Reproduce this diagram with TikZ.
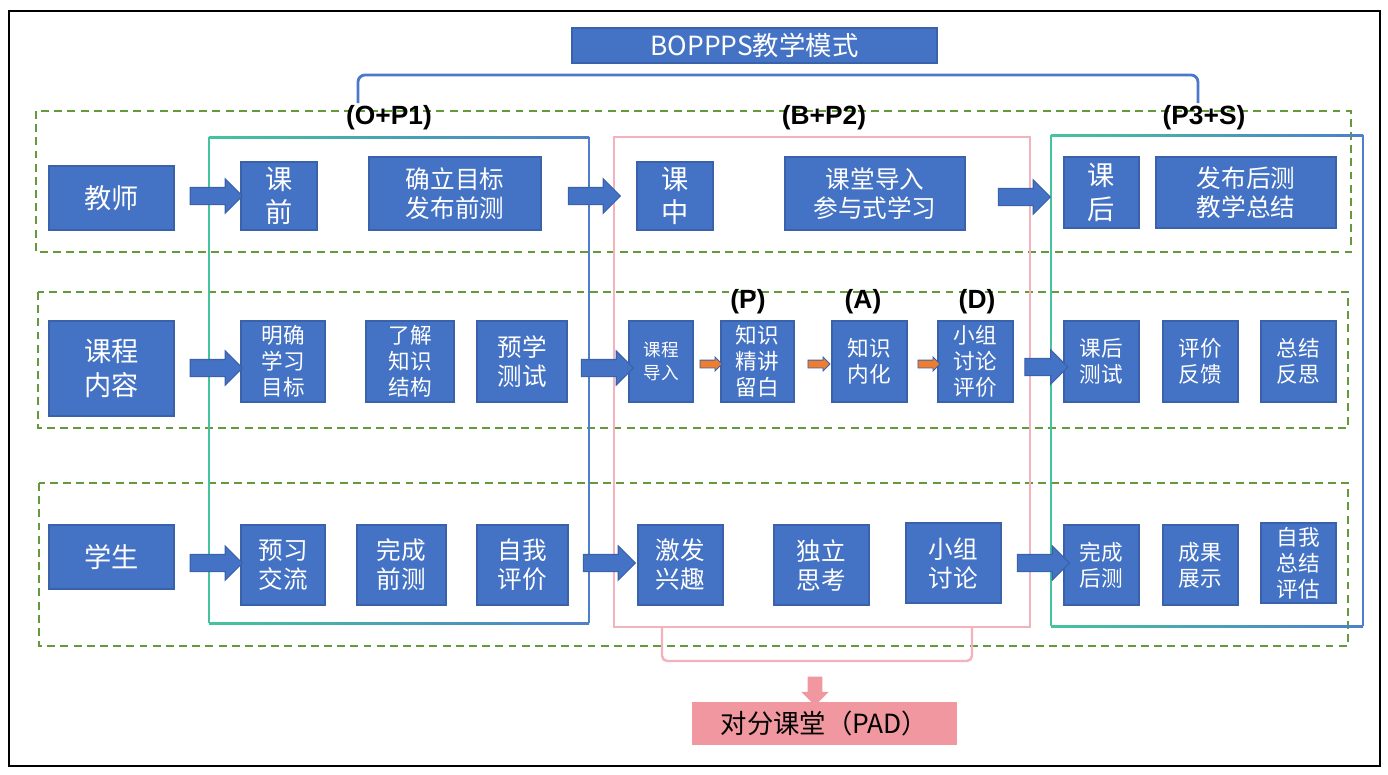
\documentclass[tikz,border=0pt]{standalone}
\usepackage{fontspec}
\setmainfont{Noto Sans CJK SC}
\newfontfamily\lblfont{Liberation Sans}
\usetikzlibrary{shapes.arrows}
\definecolor{boxblue}{HTML}{4472C4}
\definecolor{boxline}{HTML}{3A62AA}
\definecolor{braceblue}{HTML}{4A78CA}
\definecolor{dashgreen}{HTML}{64993C}
\definecolor{pinkline}{HTML}{F4B3BC}
\definecolor{padpink}{HTML}{F0979F}
\definecolor{tealline}{HTML}{45C39E}
\definecolor{groupblue}{HTML}{4E7FCB}
\definecolor{arroworange}{HTML}{ED7D31}
\tikzset{
  box/.style={draw=boxline, line width=0.9pt, fill=boxblue, text=white, align=center, inner sep=0pt},
  fbig/.style={font=\fontsize{15.5}{19}\selectfont},
  fmid/.style={font=\fontsize{14}{16.5}\selectfont},
  fsmall/.style={font=\fontsize{12.3}{14.7}\selectfont},
  ftiny/.style={font=\fontsize{10}{13}\selectfont},
  flow/.style={single arrow, draw=boxline, line width=0.6pt, fill=boxblue, inner sep=0.16cm, single arrow head extend=0.17cm, minimum height=1.04cm},
  minor/.style={single arrow, draw=boxline, line width=0.5pt, fill=arroworange, inner sep=0.07cm, single arrow head extend=0.06cm, minimum height=0.44cm},
  phase/.style={font=\lblfont\bfseries\fontsize{15}{18}\selectfont},
  rowband/.style={draw=dashgreen, line width=1.1pt, dash pattern=on 4.5pt off 3pt},
}
\begin{document}
\begin{tikzpicture}[x=0.02cm,y=-0.02cm]
  \useasboundingbox (0,0) rectangle (1388,774);
  \draw[line width=1.6pt] (9,11) rectangle (1380,766);

  % rows
  \draw[rowband] (36,111) rectangle (1351,252);
  \draw[rowband] (38,292) rectangle (1348,428);
  \draw[rowband] (39,483) rectangle (1348,646);

  % phase frames
  \draw[tealline, line width=1.2pt] (209,137) -- (209,623);
  \draw[groupblue, line width=1.2pt] (589,137) -- (589,623);
  \shade[left color=tealline, right color=groupblue] (209,136) rectangle (589,138);
  \shade[left color=tealline, right color=groupblue] (209,622) rectangle (589,624);
  \draw[pinkline, line width=1.4pt] (614,137) rectangle (1030,627);
  \draw[tealline, line width=1.2pt] (1051,135) -- (1051,626);
  \draw[groupblue, line width=1.2pt] (1363,135) -- (1363,626);
  \shade[left color=tealline, right color=groupblue] (1051,134) rectangle (1363,136);
  \shade[left color=tealline, right color=groupblue] (1051,625) rectangle (1363,627);

  % title and brace
  \node[box, font=\fontsize{15}{18}\selectfont, minimum width=7.3cm, minimum height=0.7cm] (title) at (754.5,45.5) {BOPPPS教学模式};
  \coordinate (braceL) at (358,103);
  \coordinate (braceR) at (1198,103);
  \draw[braceblue, line width=1.6pt, rounded corners=4pt] (braceL) -- (358,75) -- (1198,75) -- (braceR);
  \node[phase] (op) at (389,118) {(O+P1)};
  \node[phase] (bp) at (824,118) {(B+P2)};
  \node[phase] (ps) at (1204,118) {(P3+S)};

  % teacher row
  \node[box, fbig, minimum width=2.5cm, minimum height=1.28cm] (teacher) at (111.5,198) {教师};
  \node[box, fbig, minimum width=1.52cm, minimum height=1.36cm] (pre) at (279,196) {课\\前};
  \node[box, fmid, minimum width=3.44cm, minimum height=1.46cm] (goal) at (455,193.5) {确立目标\\发布前测};
  \node[box, fbig, minimum width=1.52cm, minimum height=1.36cm] (mid) at (675,196) {课\\中};
  \node[box, fmid, minimum width=3.6cm, minimum height=1.46cm] (lead) at (875,193.5) {课堂导入\\参与式学习};
  \node[box, fbig, minimum width=1.5cm, minimum height=1.42cm] (post) at (1101.5,192.5) {课\\后};
  \node[box, fmid, minimum width=3.6cm, minimum height=1.42cm] (sum) at (1246,192.5) {发布后测\\教学总结};
  \node[flow] (t1) at (212,196) {};
  \node[flow] (t2) at (590,196) {};
  \node[flow] (t3) at (1020,197) {};

  % content row
  \node[box, fbig, minimum width=2.5cm, minimum height=1.9cm] (content) at (111.5,368.5) {课程\\内容};
  \node[box, fsmall, minimum width=1.68cm, minimum height=1.62cm] (aim) at (283,361.5) {明确\\学习\\目标};
  \node[box, fsmall, minimum width=1.76cm, minimum height=1.62cm] (frame) at (410,361.5) {了解\\知识\\结构};
  \node[box, fmid, minimum width=1.8cm, minimum height=1.62cm] (pretest) at (522,361.5) {预学\\测试};
  \node[box, ftiny, minimum width=1.28cm, minimum height=1.62cm] (intro) at (661,361.5) {课程\\导入};
  \node[box, fsmall, minimum width=1.46cm, minimum height=1.62cm] (lecture) at (757.5,361.5) {知识\\精讲\\留白};
  \node[box, fsmall, minimum width=1.5cm, minimum height=1.62cm] (absorb) at (869.5,361.5) {知识\\内化};
  \node[box, fsmall, minimum width=1.5cm, minimum height=1.62cm] (discuss) at (975.5,361.5) {小组\\讨论\\评价};
  \node[box, fsmall, minimum width=1.5cm, minimum height=1.62cm] (posttest) at (1101.5,361.5) {课后\\测试};
  \node[box, fsmall, minimum width=1.5cm, minimum height=1.62cm] (feedback) at (1200.5,361.5) {评价\\反馈};
  \node[box, fsmall, minimum width=1.5cm, minimum height=1.62cm] (reflect) at (1298.5,361.5) {总结\\反思};
  \node[phase] (pl) at (748,302) {(P)};
  \node[phase] (al) at (863,302) {(A)};
  \node[phase] (dl) at (977,302) {(D)};
  \node[flow] (c1) at (212,368) {};
  \node[flow] (c2) at (603,368) {};
  \node[flow, minimum height=0.86cm] (c3) at (1042,367) {};
  \node[minor] (m1) at (709,364) {};
  \node[minor] (m2) at (817,364) {};
  \node[minor] (m3) at (927,364) {};

  % student row
  \node[box, fbig, minimum width=2.5cm, minimum height=1.28cm] (student) at (111.5,557) {学生};
  \node[box, fmid, minimum width=1.68cm, minimum height=1.6cm] (preview) at (283,565) {预习\\交流};
  \node[box, fmid, minimum width=1.78cm, minimum height=1.6cm] (dotest) at (401.5,565) {完成\\前测};
  \node[box, fmid, minimum width=1.82cm, minimum height=1.6cm] (selfeval) at (522.5,565) {自我\\评价};
  \node[box, fmid, minimum width=1.7cm, minimum height=1.6cm] (spark) at (680.5,565) {激发\\兴趣};
  \node[box, fmid, minimum width=1.9cm, minimum height=1.6cm] (think) at (821.5,565) {独立\\思考};
  \node[box, fmid, minimum width=1.9cm, minimum height=1.6cm] (group) at (953.5,563) {小组\\讨论};
  \node[box, fsmall, minimum width=1.5cm, minimum height=1.6cm] (finish) at (1101.5,565) {完成\\后测};
  \node[box, fsmall, minimum width=1.5cm, minimum height=1.6cm] (show) at (1200.5,565) {成果\\展示};
  \node[box, fsmall, minimum width=1.5cm, minimum height=1.6cm] (selfsum) at (1298.5,563) {自我\\总结\\评估};
  \node[flow] (s1) at (212,563) {};
  \node[flow] (s2) at (605,563) {};
  \node[flow] (s3) at (1039,563) {};

  % PAD
  \coordinate (padL) at (662,627);
  \coordinate (padR) at (972,627);
  \draw[pinkline, line width=1.4pt, rounded corners=3pt] (padL) -- (662,661) -- (972,661) -- (padR);
  \node[single arrow, shape border rotate=270, fill=padpink, inner sep=0.14cm, single arrow head extend=0.13cm, minimum height=0.58cm] (down) at (815,687.5) {};
  \node[fill=padpink, font=\fontsize{15}{18}\selectfont, minimum width=5.3cm, minimum height=0.86cm, inner sep=0pt] (pad) at (824.5,723.5) {对分课堂（PAD）};
\end{tikzpicture}
\end{document}
